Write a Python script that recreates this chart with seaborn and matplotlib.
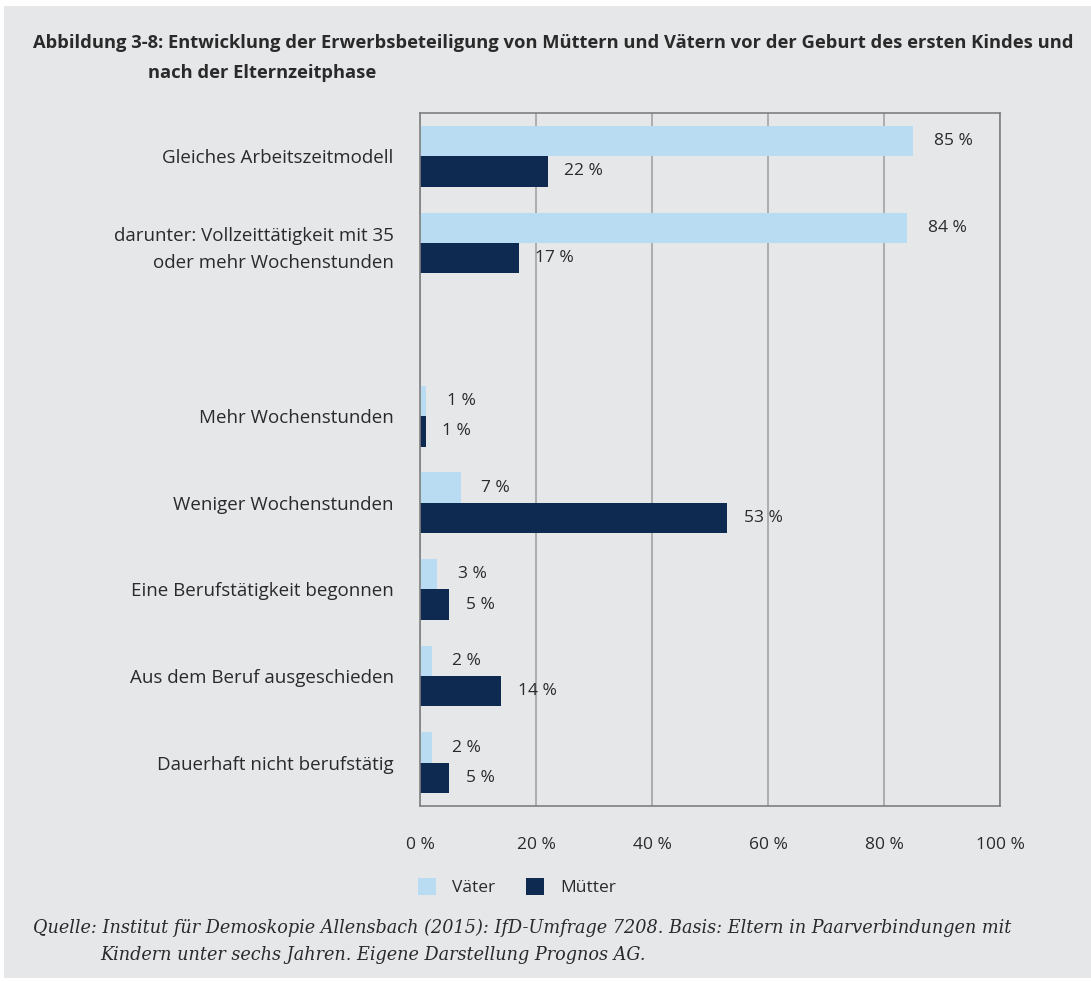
import numpy as np
import pandas as pd
import seaborn as sns
import matplotlib
matplotlib.use("Agg")
import matplotlib.pyplot as plt
from matplotlib.patches import Rectangle
from matplotlib.ticker import FixedLocator

# ---- data ----
categories = [
    "Gleiches Arbeitszeitmodell",
    "darunter: Vollzeittätigkeit mit 35\noder mehr Wochenstunden",
    "",
    "Mehr Wochenstunden",
    "Weniger Wochenstunden",
    "Eine Berufstätigkeit begonnen",
    "Aus dem Beruf ausgeschieden",
    "Dauerhaft nicht berufstätig",
]
series = ["Väter", "Mütter"]
vaeter = [85, 84, np.nan, 1, 7, 3, 2, 2]
muetter = [22, 17, np.nan, 1, 53, 5, 14, 5]
xticks = [0, 20, 40, 60, 80, 100]
xticklabels = ["0 %", "20 %", "40 %", "60 %", "80 %", "100 %"]

title1 = "Abbildung 3-8: Entwicklung der Erwerbsbeteiligung von Müttern und Vätern vor der Geburt des ersten Kindes und"
title2 = "nach der Elternzeitphase"
source1 = "Quelle: Institut für Demoskopie Allensbach (2015): IfD-Umfrage 7208. Basis: Eltern in Paarverbindungen mit"
source2 = "Kindern unter sechs Jahren. Eigene Darstellung Prognos AG."

colors = {"Väter": "#b9dcf2", "Mütter": "#0e2a50"}
BG = "#e6e7e9"
TXT = "#2a2a2a"

df = pd.DataFrame({
    "Kategorie": categories * 2,
    "Gruppe": [series[0]] * len(categories) + [series[1]] * len(categories),
    "Wert": vaeter + muetter,
})

sns.set_style("white")
plt.rcParams["font.family"] = ["Open Sans", "DejaVu Sans"]

W, H = 1091, 981
fig = plt.figure(figsize=(W / 100, H / 100), dpi=100)
fig.patch.set_facecolor("white")
fig.patches.append(Rectangle((4 / W, 3 / H), 1 - 4 / W, 1 - 9 / H,
                             transform=fig.transFigure, facecolor=BG,
                             edgecolor="none", zorder=-10))

ax = fig.add_axes([420 / W, 1 - 806 / H, 580 / W, 693 / H])
ax.set_facecolor(BG)

sns.barplot(data=df, y="Kategorie", x="Wert", hue="Gruppe", order=categories,
            hue_order=series, palette=colors, width=0.7, errorbar=None,
            saturation=1, linewidth=0, orient="h", ax=ax)

for cont, pad in zip(ax.containers, [15, 12]):
    ax.bar_label(cont, fmt="{:.0f} %", padding=pad, fontsize=12.5, color=TXT)

ax.set_xlim(0, 100)
ax.set_ylim(len(categories) - 0.5, -0.5)
ax.set_xlabel("")
ax.set_ylabel("")

ax.set_xticks(xticks)
ax.set_xticklabels(xticklabels, fontsize=12.5, color=TXT)
ax.tick_params(axis="x", length=10, width=1.2, color="#7f7f7f", pad=12)

ax.tick_params(axis="y", which="major", length=0, pad=19, labelsize=13.5,
               labelcolor=TXT)
for t in ax.get_yticklabels():
    t.set_linespacing(1.65)
ax.yaxis.set_minor_locator(FixedLocator(np.arange(0.5, len(categories), 1)))
ax.tick_params(axis="y", which="minor", length=7, width=1.2, color="#7f7f7f")

ax.xaxis.grid(True, color="#a8a8a8", linewidth=1.3)
ax.yaxis.grid(False)
ax.set_axisbelow(True)
for s in ax.spines.values():
    s.set_visible(True)
    s.set_color("#7f7f7f")
    s.set_linewidth(1.2)

leg = ax.get_legend()
handles = leg.legend_handles
labels = [t.get_text() for t in leg.get_texts()]
leg.remove()
fig.legend(handles, labels, loc="center left",
           bbox_to_anchor=(418 / W, 1 - 887 / H), ncol=2, frameon=False,
           fontsize=12.5, handlelength=1.05, handleheight=1.1,
           handletextpad=0.9, columnspacing=1.8, borderaxespad=0,
           borderpad=0, labelcolor=TXT)

fig.text(33 / W, 1 - 43 / H, title1, fontsize=13.2, fontweight="bold",
         family=["Open Sans", "DejaVu Sans"],
         color=TXT, va="center", ha="left")
fig.text(148 / W, 1 - 73 / H, title2, fontsize=13.2, fontweight="bold",
         family=["Open Sans", "DejaVu Sans"],
         color=TXT, va="center", ha="left")

fig.text(33 / W, 1 - 928 / H, source1, fontsize=12.7, style="italic",
         family=["DejaVu Serif"], color=TXT, va="center", ha="left")
fig.text(100 / W, 1 - 955 / H, source2, fontsize=12.7, style="italic",
         family=["DejaVu Serif"], color=TXT, va="center", ha="left")

fig.savefig("out.png", dpi=100)
